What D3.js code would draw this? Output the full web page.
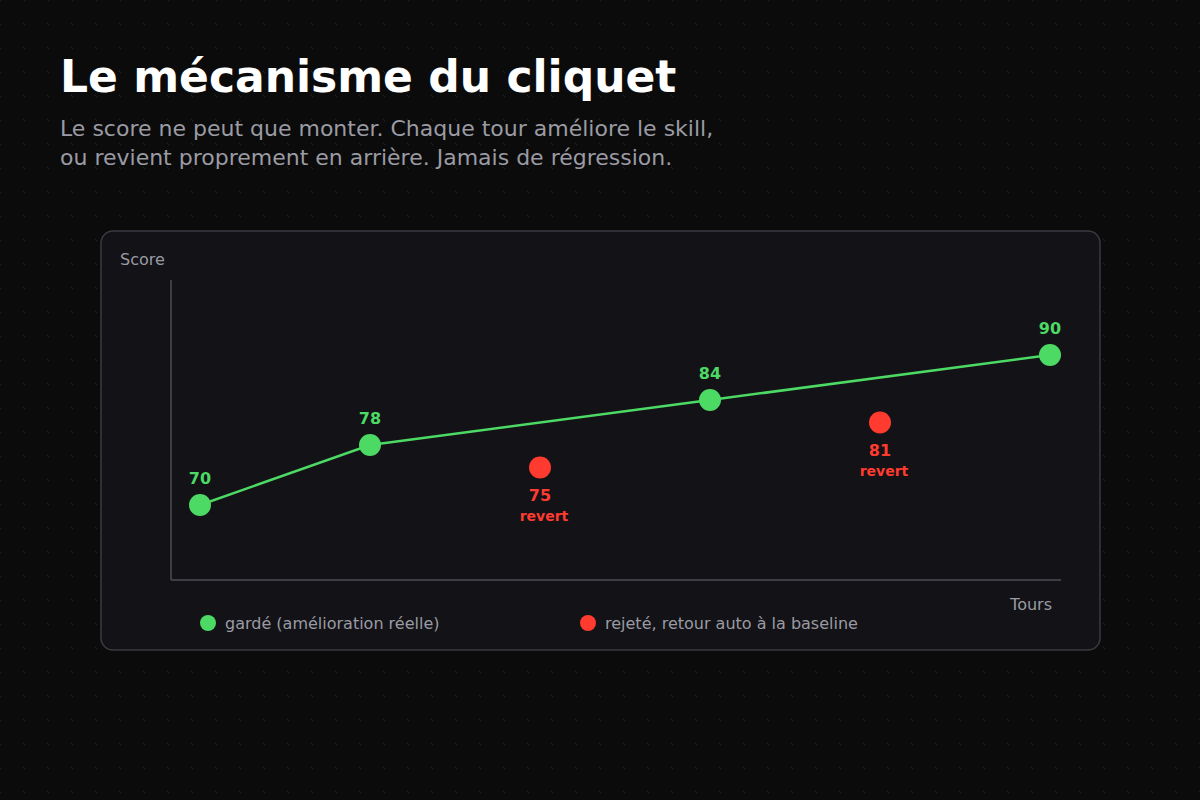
<!DOCTYPE html>
<html><head><meta charset="utf-8">
<script src="https://cdn.jsdelivr.net/npm/d3@7"></script>
<style>html,body{margin:0;padding:0;background:#0b0b0c;}svg{display:block;font-family:"DejaVu Sans",sans-serif;}</style>
</head><body>
<svg id="c" width="1200" height="800"></svg>
<script>
const title = "Le mécanisme du cliquet";
const subtitle = ["Le score ne peut que monter. Chaque tour améliore le skill,", "ou revient proprement en arrière. Jamais de régression."];
const rounds = [1, 2, 3, 4, 5, 6];
const scores = [70, 78, 75, 84, 81, 90];
const status = ["kept", "kept", "revert", "kept", "revert", "kept"];
const legendLabels = ["gardé (amélioration réelle)", "rejeté, retour auto à la baseline"];
const yLabel = "Score", xLabel = "Tours";

const GREEN = "#4cd964", RED = "#ff3b30";
const svg = d3.select("#c");
const defs = svg.append("defs");
const pat = defs.append("pattern").attr("id","dots").attr("width",24).attr("height",24).attr("patternUnits","userSpaceOnUse");
pat.append("rect").attr("x",23.5).attr("y",22.5).attr("width",1).attr("height",3).attr("fill","#232326");
pat.append("rect").attr("x",22.5).attr("y",23.5).attr("width",3).attr("height",1).attr("fill","#232326");
pat.append("rect").attr("x",-0.5).attr("y",-1.5).attr("width",1).attr("height",3).attr("fill","#232326");
pat.append("rect").attr("x",-1.5).attr("y",-0.5).attr("width",3).attr("height",1).attr("fill","#232326");
svg.append("rect").attr("width",1200).attr("height",800).attr("fill","#0b0b0c");
svg.append("rect").attr("width",1200).attr("height",800).attr("fill","url(#dots)");

svg.append("text").attr("x",60).attr("y",92).attr("fill","#ffffff").attr("font-size",44).attr("font-weight","bold").text(title);
subtitle.forEach((s,i)=>svg.append("text").attr("x",60).attr("y",136+i*29).attr("fill","#9b9ba3").attr("font-size",22).text(s));

svg.append("rect").attr("x",101).attr("y",231).attr("width",999).attr("height",419).attr("rx",12)
  .attr("fill","#121217").attr("stroke","#3a3a40").attr("stroke-width",1.5);

const x = d3.scaleLinear().domain([1,6]).range([200,1050]);
const y = d3.scaleLinear().domain([60,100]).range([580,280]);

svg.append("line").attr("x1",171).attr("x2",171).attr("y1",280).attr("y2",580).attr("stroke","#3d3d44").attr("stroke-width",2);
svg.append("line").attr("x1",171).attr("x2",1061).attr("y1",580).attr("y2",580).attr("stroke","#3d3d44").attr("stroke-width",2);
svg.append("text").attr("x",120).attr("y",265).attr("fill","#9b9ba3").attr("font-size",16).text(yLabel);
svg.append("text").attr("x",1052).attr("y",610).attr("text-anchor","end").attr("fill","#9b9ba3").attr("font-size",16).text(xLabel);

const data = rounds.map((r,i)=>({r, v:scores[i], s:status[i]}));
const kept = data.filter(d=>d.s==="kept");
svg.append("path").datum(kept).attr("d", d3.line().x(d=>x(d.r)).y(d=>y(d.v)))
  .attr("fill","none").attr("stroke",GREEN).attr("stroke-width",2.5);

svg.selectAll("circle.pt").data(data).join("circle").attr("class","pt")
  .attr("cx",d=>x(d.r)).attr("cy",d=>y(d.v)).attr("r",11)
  .attr("fill",d=>d.s==="kept"?GREEN:RED);

kept.forEach(d=>svg.append("text").attr("x",x(d.r)).attr("y",y(d.v)-21).attr("text-anchor","middle")
  .attr("fill",GREEN).attr("font-size",16).attr("font-weight","bold").text(d.v));
data.filter(d=>d.s==="revert").forEach(d=>{
  svg.append("text").attr("x",x(d.r)).attr("y",y(d.v)+33).attr("text-anchor","middle")
    .attr("fill",RED).attr("font-size",16).attr("font-weight","bold").text(d.v);
  svg.append("text").attr("x",x(d.r)+4).attr("y",y(d.v)+53).attr("text-anchor","middle")
    .attr("fill",RED).attr("font-size",14).attr("font-weight","bold").text("revert");
});

const legX = [208, 588], legC = [GREEN, RED];
legendLabels.forEach((l,i)=>{
  svg.append("circle").attr("cx",legX[i]).attr("cy",623).attr("r",8).attr("fill",legC[i]);
  svg.append("text").attr("x",legX[i]+17).attr("y",628.5).attr("fill","#9b9ba3").attr("font-size",16).text(l);
});
</script>
</body></html>
